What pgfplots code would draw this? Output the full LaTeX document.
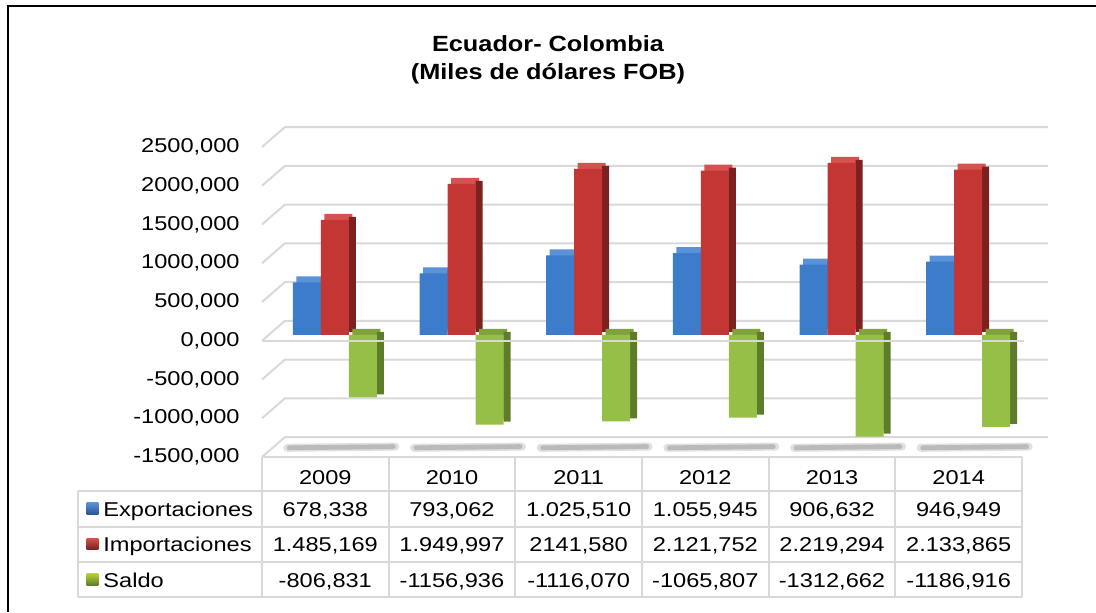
\documentclass[border=0pt]{standalone}
\usepackage{pgfplots}
\pgfplotsset{compat=1.18}
\usepackage{pgfplotstable}
\usepackage{fontspec}
\setmainfont{Liberation Sans}[FakeStretch=1.18]
\newfontfamily\titlefont{Liberation Sans}[FakeStretch=1.15]

\definecolor{gridc}{HTML}{D9D9D9}
\definecolor{expF}{HTML}{3D7CCA}
\definecolor{expT}{HTML}{5A92D8}
\definecolor{expS}{HTML}{2A5898}
\definecolor{impF}{HTML}{C43634}
\definecolor{impT}{HTML}{D65250}
\definecolor{impS}{HTML}{7C2020}
\definecolor{salF}{HTML}{96BF47}
\definecolor{salT}{HTML}{7FA33A}
\definecolor{salS}{HTML}{5E7D2B}

% miles de dolares FOB
\pgfplotstableread{
x exp imp sal
0 678.338 1485.169 -806.831
1 793.062 1949.997 -1156.936
2 1025.510 2141.580 -1116.070
3 1055.945 2121.752 -1065.807
4 906.632 2219.294 -1312.662
5 946.949 2133.865 -1186.916
}\ecucol

\pgfplotsset{
  barface/.style={draw=none, fill=#1, bar width=14pt},
  barside/.style={draw=none, fill=#1, bar width=3.5pt},
}

\begin{document}
\begin{tikzpicture}
\useasboundingbox (0,0) rectangle (548pt,306pt);

\begin{axis}[
  at={(131pt,77.5pt)}, anchor=south west,
  scale only axis, width=380pt, height=155pt,
  xmin=-0.5, xmax=5.5, ymin=-1500, ymax=2500,
  enlargelimits=false, clip=false,
  axis line style={draw=none},
  major tick length=0pt, tick style={draw=none},
  ybar,
  ytick={-1500,-1000,-500,0,500,1000,1500,2000,2500},
  /pgf/number format/fixed,
  /pgf/number format/fixed zerofill,
  /pgf/number format/precision=3,
  /pgf/number format/use comma,
  /pgf/number format/1000 sep={},
  /pgf/number format/assume math mode=true,
  yticklabel={\pgfmathprintnumber{\tick}},
  yticklabel style={anchor=east, inner sep=0pt, xshift=-11pt},
  xtick={0,1,2,3,4,5},
  xticklabels={2009,2010,2011,2012,2013,2014},
  xticklabel style={anchor=base, inner sep=0pt, yshift=-13.5pt},
]

% back wall gridlines with the slant to the front
\pgfplotsinvokeforeach{-1500,-1000,-500,0,500,1000,1500,2000,2500}{
  \draw[gridc, line width=1pt] (axis cs:-0.5,#1) -- ++(11.5pt,10pt) -- ++(381.5pt,0pt);
}
% floor shadows
\pgfplotsinvokeforeach{0,1,2,3,4,5}{
  \draw[black!12, line width=4pt, line cap=round] (axis cs:#1,-1500) ++(-19pt,4.6pt) -- ++(54pt,0.6pt);
  \draw[black!27, line width=2.4pt, line cap=round] (axis cs:#1,-1500) ++(-18pt,4.6pt) -- ++(52pt,0.6pt);
}

% Exportaciones
\addplot[barface=expT, bar shift=-7.5pt, yshift=5.9pt] table[x=x,y=exp]{\ecucol};
\addplot[barside=expS, bar shift=-0.5pt, yshift=4.4pt] table[x=x,y=exp]{\ecucol};
\addplot[barface=expF, bar shift=-9.25pt, yshift=2.9pt] table[x=x,y=exp]{\ecucol};
% Importaciones
\addplot[barface=impT, bar shift=6.5pt, yshift=5.9pt] table[x=x,y=imp]{\ecucol};
\addplot[barside=impS, bar shift=13.5pt, yshift=4.4pt] table[x=x,y=imp]{\ecucol};
\addplot[barface=impF, bar shift=4.75pt, yshift=2.9pt] table[x=x,y=imp]{\ecucol};
% Saldo
\addplot[barface=salT, bar shift=20.5pt, yshift=5.9pt] table[x=x,y=sal]{\ecucol};
\addplot[barside=salS, bar shift=27.5pt, yshift=4.4pt] table[x=x,y=sal]{\ecucol};
\addplot[barface=salF, bar shift=18.75pt, yshift=2.9pt] table[x=x,y=sal]{\ecucol};

% front edge of the zero plane
\draw[gridc, line width=1pt] (axis cs:-0.5,0) -- (axis cs:5.5,0) -- ++(1pt,0pt);
\end{axis}

\begin{scope}[x=0.5pt, y=-0.5pt, shift={(0pt,306pt)}]
  % chart frame (cut at right and bottom)
  \draw[black, line width=1pt] (8,612) -- (8,6) -- (1096,6);

  % title
  \node[font=\titlefont\bfseries\fontsize{11pt}{13pt}\selectfont, anchor=base, inner sep=0pt]
    at (548,51.7) {Ecuador- Colombia};
  \node[font=\titlefont\bfseries\fontsize{11pt}{13pt}\selectfont, anchor=base, inner sep=0pt]
    at (548,80) {(Miles de dólares FOB)};

  % data table grid
  \draw[gridc, line width=1pt] (262,457) -- (1022,457);
  \foreach \yy in {490.7,526.7,561.7,597.3}
    \draw[gridc, line width=1pt] (77.7,\yy) -- (1022,\yy);
  \draw[gridc, line width=1pt] (77.7,490.7) -- (77.7,597.3);
  \foreach \xx in {262,388.7,515.3,642,768.7,895.3,1022}
    \draw[gridc, line width=1pt] (\xx,457) -- (\xx,597.3);

  % legend keys and row names
  \shade[top color=expT, bottom color=expS] (86.7,502.5) rectangle (98.3,514);
  \shade[top color=impT, bottom color=impS] (86.7,538) rectangle (98.3,549.5);
  \shade[top color=salF!70!yellow, bottom color=salS] (86.7,573.5) rectangle (98.3,585);
  \node[anchor=base west, inner sep=0pt] at (103,516) {Exportaciones};
  \node[anchor=base west, inner sep=0pt] at (103,551.5) {Importaciones};
  \node[anchor=base west, inner sep=0pt] at (103,587) {Saldo};

  % table values
  \foreach \v [count=\i from 0] in {{678,338},{793,062},{1.025,510},{1.055,945},{906,632},{946,949}}
    \node[anchor=base, inner sep=0pt] at ({325.3+126.67*\i},516) {\v};
  \foreach \v [count=\i from 0] in {{1.485,169},{1.949,997},{2141,580},{2.121,752},{2.219,294},{2.133,865}}
    \node[anchor=base, inner sep=0pt] at ({325.3+126.67*\i},551.5) {\v};
  \foreach \v [count=\i from 0] in {{-806,831},{-1156,936},{-1116,070},{-1065,807},{-1312,662},{-1186,916}}
    \node[anchor=base, inner sep=0pt] at ({325.3+126.67*\i},587) {\v};
\end{scope}
\end{tikzpicture}
\end{document}
